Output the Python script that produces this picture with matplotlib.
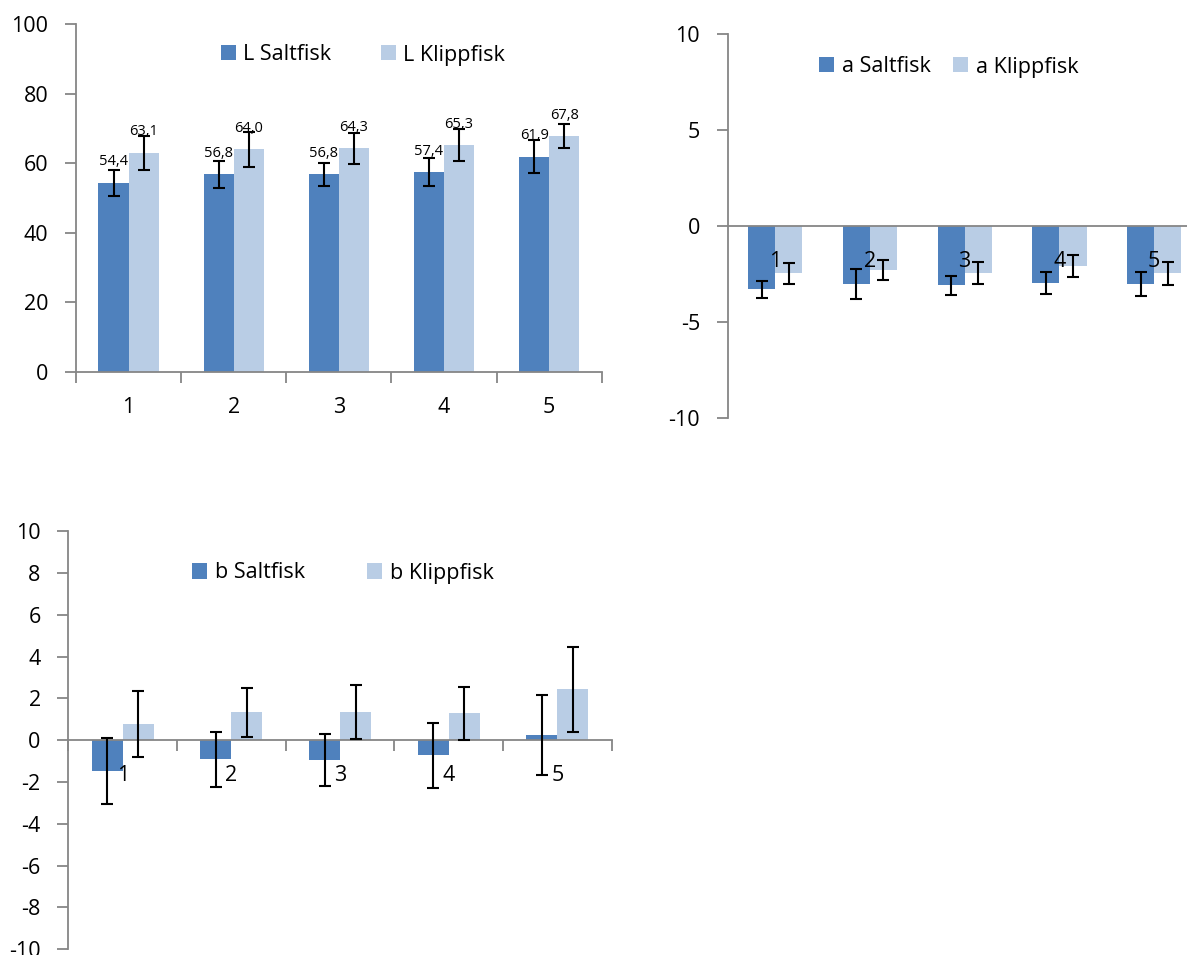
import numpy as np
import matplotlib
matplotlib.use("Agg")
import matplotlib.pyplot as plt

plt.rcParams['font.family'] = ['Open Sans', 'DejaVu Sans']
plt.rcParams['axes.unicode_minus'] = False

# values
samples = [1, 2, 3, 4, 5]

L_salt = [54.4, 56.8, 56.8, 57.4, 61.9]
L_salt_err = [3.7, 3.8, 3.4, 4.0, 4.7]
L_klipp = [63.1, 64.0, 64.3, 65.3, 67.8]
L_klipp_err = [4.9, 5.0, 4.5, 4.6, 3.4]

a_salt = [-3.30, -3.02, -3.09, -2.97, -3.02]
a_salt_err = [0.45, 0.77, 0.50, 0.55, 0.63]
a_klipp = [-2.47, -2.29, -2.43, -2.08, -2.47]
a_klipp_err = [0.55, 0.50, 0.57, 0.56, 0.59]

b_salt = [-1.46, -0.92, -0.95, -0.71, 0.26]
b_salt_err = [1.57, 1.30, 1.24, 1.55, 1.92]
b_klipp = [0.78, 1.33, 1.36, 1.30, 2.43]
b_klipp_err = [1.60, 1.15, 1.28, 1.27, 2.02]

dark = '#4F81BD'
light = '#B9CDE5'
grey = '#868686'
w = 1 / 3.5
fs = 15.5

fig = plt.figure(figsize=(11.87, 9.55), dpi=100)


def bar_chart(ax, salt, salt_err, klipp, klipp_err, names, ylim, yticks, minor=True):
    x = np.array(samples)
    # spine position first, it resets the ticks
    for s in ['top', 'right']:
        ax.spines[s].set_visible(False)
    for s in ['left', 'bottom']:
        ax.spines[s].set_color(grey)
        ax.spines[s].set_linewidth(1.3)
    ax.spines['bottom'].set_position(('data', 0))
    ax.set_axisbelow(False)
    ax.patch.set_alpha(0)

    ax.bar(x - w / 2, salt, w, color=dark, label=names[0], zorder=2)
    ax.bar(x + w / 2, klipp, w, color=light, label=names[1], zorder=2)
    ekw = dict(fmt='none', ecolor='black', elinewidth=1.5, capsize=4.5, capthick=1.5, zorder=3)
    ax.errorbar(x - w / 2, salt, yerr=salt_err, **ekw)
    ax.errorbar(x + w / 2, klipp, yerr=klipp_err, **ekw)

    ax.set_xlim(0.5, 5.5)
    ax.set_ylim(*ylim)
    ax.set_yticks(yticks)
    ax.set_xticks(x)
    ax.set_xticklabels([str(s) for s in samples])
    ax.tick_params(axis='x', which='major', length=0, pad=18, labelsize=fs)
    if minor:
        ax.set_xticks(np.arange(0.5, 6, 1), minor=True)
        ax.tick_params(axis='x', which='minor', length=8, width=1.3, color=grey, direction='out')
    ax.tick_params(axis='y', length=8, width=1.3, color=grey, pad=12, labelsize=fs)


# Fig L
ax1 = fig.add_axes([0.0640, 0.6105, 0.4429, 0.3641])
bar_chart(ax1, L_salt, L_salt_err, L_klipp, L_klipp_err,
          ['L Saltfisk', 'L Klippfisk'], (0, 100), [0, 20, 40, 60, 80, 100])
for xs, vals in [(np.array(samples) - w / 2, L_salt), (np.array(samples) + w / 2, L_klipp)]:
    for xi, v in zip(xs, vals):
        ax1.annotate(f"{v:.1f}".replace('.', ','), (xi, v), xytext=(0, 15),
                     textcoords='offset points', ha='center', va='center', fontsize=10.5, zorder=4)
ax1.legend(loc='center', bbox_to_anchor=(363 / 1187, 1 - 55 / 955), bbox_transform=fig.transFigure,
           ncol=2, frameon=False, fontsize=fs, handlelength=0.7, handleheight=0.7,
           handletextpad=0.35, columnspacing=2.3)

# Fig a
ax2 = fig.add_axes([0.6131, 0.5623, 0.3992, 0.4021])
bar_chart(ax2, a_salt, a_salt_err, a_klipp, a_klipp_err,
          ['a Saltfisk', 'a Klippfisk'], (-10, 10), [-10, -5, 0, 5, 10], minor=False)
ax2.legend(loc='center', bbox_to_anchor=(949 / 1187, 1 - 67 / 955), bbox_transform=fig.transFigure,
           ncol=2, frameon=False, fontsize=fs, handlelength=0.7, handleheight=0.7,
           handletextpad=0.35, columnspacing=1.05)

# Fig b
ax3 = fig.add_axes([0.0577, 0.0060, 0.4576, 0.4377])
bar_chart(ax3, b_salt, b_salt_err, b_klipp, b_klipp_err,
          ['b Saltfisk', 'b Klippfisk'], (-10, 10), list(range(-10, 11, 2)))
ax3.legend(loc='center', bbox_to_anchor=(343 / 1187, 1 - 573 / 955), bbox_transform=fig.transFigure,
           ncol=2, frameon=False, fontsize=fs, handlelength=0.7, handleheight=0.7,
           handletextpad=0.35, columnspacing=2.9)

plt.savefig('out.png', dpi=100)
